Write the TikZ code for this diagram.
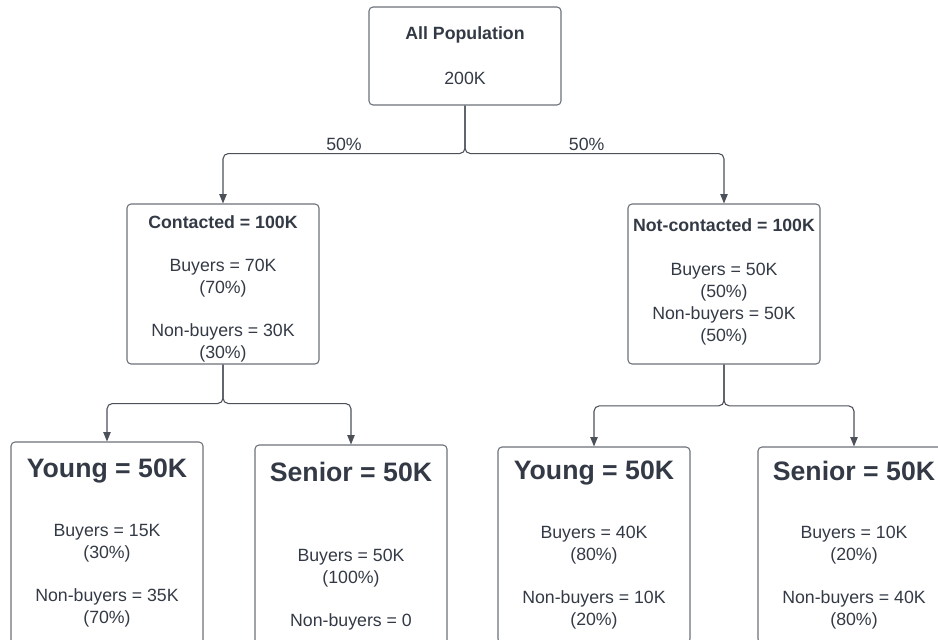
\documentclass[tikz,border=0pt]{standalone}
\usepackage{fontspec}
\setmainfont{Liberation Sans}
\usetikzlibrary{arrows.meta, positioning}
\definecolor{ink}{HTML}{333A45}
\definecolor{wire}{HTML}{4B5059}
\definecolor{edge}{HTML}{6B717A}
\newcommand{\leafhead}[1]{{\bfseries\fontsize{20}{23}\selectfont #1}}

\begin{document}
\begin{tikzpicture}[
  x=0.75pt, y=-0.75pt,
  box/.style={draw=edge, line width=0.8pt, rounded corners=3pt, align=center, text=ink, font=\fontsize{13.3}{16.5}\selectfont, minimum width=144pt, inner xsep=2pt, inner ysep=1pt},
  root/.style={box, minimum height=73.5pt},
  mid/.style={box, minimum height=120pt},
  leaf/.style={box, minimum height=151.5pt},
  pct/.style={text=ink, font=\fontsize{13.3}{16}\selectfont, inner sep=2pt},
  flow/.style={-{Triangle[length=7pt, width=5.5pt]}, draw=wire, line width=0.8pt, rounded corners=4pt}
]
\useasboundingbox (0,0) rectangle (938,639);
\clip (0,0) rectangle (938,639);

\node[root] (all) at (465,56) {\textbf{All Population}\\[17.25pt]200K};
\node[mid] (contacted) at (223,284) {\rule{0pt}{17.1pt}\textbf{Contacted = 100K}\\[15.75pt]Buyers = 70K\\(70\%)\\[15.75pt]Non-buyers = 30K\\(30\%)};
\node[mid, text depth=5.8pt] (notcontacted) at (724,284) {\textbf{Not-contacted = 100K}\\[16.5pt]Buyers = 50K\\(50\%)\\Non-buyers = 50K\\(50\%)};
\node[leaf] (youngc) at (107,543) {\leafhead{Young = 50K}\\[27.5pt]Buyers = 15K\\(30\%)\\[15.75pt]Non-buyers = 35K\\(70\%)};
\node[leaf] (seniorc) at (351,546) {\leafhead{Senior = 50K}\\[43.5pt]Buyers = 50K\\(100\%)\\[15.75pt]Non-buyers = 0};
\node[leaf, minimum height=147pt] (youngn) at (594,545) {\leafhead{Young = 50K}\\[27.5pt]Buyers = 40K\\(80\%)\\[15.75pt]Non-buyers = 10K\\(20\%)};
\node[leaf, minimum height=147pt] (seniorn) at (854,545) {\leafhead{Senior = 50K}\\[27.5pt]Buyers = 10K\\(20\%)\\[15.75pt]Non-buyers = 40K\\(80\%)};

\coordinate[below=36pt of all.south] (allsplit);
\coordinate[below=29.25pt of contacted.south] (csplit);
\coordinate[below=31pt of notcontacted.south] (nsplit);

\draw[flow] (all.south) -- (allsplit) -| node[pct, pos=0.25, above] {50\%} (contacted.north);
\draw[flow] (all.south) -- (allsplit) -| node[pct, pos=0.235, above] {50\%} (notcontacted.north);
\draw[flow] (contacted.south) -- (csplit) -| (youngc.north);
\draw[flow] (contacted.south) -- (csplit) -| (seniorc.north);
\draw[flow] (notcontacted.south) -- (nsplit) -| (youngn.north);
\draw[flow] (notcontacted.south) -- (nsplit) -| (seniorn.north);
\end{tikzpicture}
\end{document}
